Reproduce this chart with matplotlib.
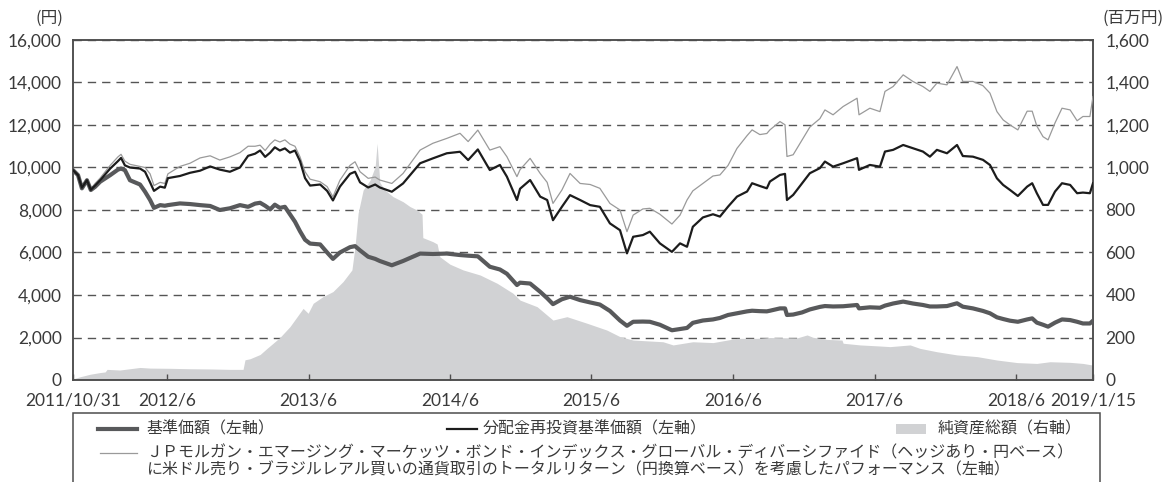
import pandas as pd
import matplotlib.pyplot as plt
from matplotlib.lines import Line2D
from matplotlib.patches import Rectangle

jp = ['Noto Sans CJK JP', 'DejaVu Sans']
num = ['Lato', 'DejaVu Sans']

# --- data ---
line_dates = [
    '2011-10-31', '2011-11-13', '2011-11-23', '2011-12-06', '2011-12-16', '2011-12-27',
    '2012-01-09', '2012-02-04', '2012-02-24', '2012-03-03', '2012-03-13', '2012-03-26',
    '2012-04-21', '2012-05-04', '2012-05-17', '2012-05-27', '2012-06-12', '2012-06-24',
    '2012-07-02', '2012-08-02', '2012-08-28', '2012-09-23', '2012-10-19', '2012-11-13',
    '2012-12-09', '2013-01-04', '2013-01-25', '2013-02-12', '2013-02-25', '2013-03-10',
    '2013-03-23', '2013-04-04', '2013-04-17', '2013-04-30', '2013-05-13', '2013-05-26',
    '2013-06-08', '2013-06-21', '2013-07-04', '2013-07-30', '2013-08-17', '2013-09-01',
    '2013-09-19', '2013-10-15', '2013-10-28', '2013-11-10', '2013-12-01', '2013-12-19',
    '2013-12-31', '2014-01-31', '2014-03-01', '2014-04-14', '2014-05-17', '2014-06-22',
    '2014-07-26', '2014-08-16', '2014-09-10', '2014-10-11', '2014-11-06', '2014-11-24',
    '2014-12-20', '2014-12-28', '2015-01-23', '2015-02-18', '2015-03-08', '2015-03-23',
    '2015-04-15', '2015-05-06', '2015-06-01', '2015-06-27', '2015-07-22', '2015-08-17',
    '2015-09-12', '2015-09-30', '2015-10-16', '2015-11-10', '2015-11-28', '2015-12-24',
    '2016-01-24', '2016-02-14', '2016-03-03', '2016-03-18', '2016-04-13', '2016-05-09',
    '2016-05-27', '2016-06-17', '2016-07-10', '2016-08-05', '2016-08-18', '2016-09-07',
    '2016-09-25', '2016-10-03', '2016-10-29', '2016-11-11', '2016-11-16', '2016-12-02',
    '2016-12-25', '2017-01-14', '2017-02-09', '2017-02-22', '2017-03-15', '2017-04-10',
    '2017-05-16', '2017-05-21', '2017-06-18', '2017-07-14', '2017-07-27', '2017-08-17',
    '2017-09-12', '2017-10-07', '2017-11-02', '2017-11-20', '2017-12-08', '2018-01-03',
    '2018-01-29', '2018-02-13', '2018-03-11', '2018-04-06', '2018-04-24', '2018-05-12',
    '2018-05-28', '2018-06-15', '2018-07-05', '2018-07-29', '2018-08-11', '2018-08-23',
    '2018-09-08', '2018-09-21', '2018-10-09', '2018-10-27', '2018-11-17', '2018-12-05',
    '2018-12-20', '2019-01-07', '2019-01-15',
]

# 基準価額 (円)
nav = [
    9875, 9640, 9020, 9400, 8940, 9090,
    9330, 9640, 9900, 9950, 9875, 9400,
    9200, 8860, 8470, 8100, 8230, 8200,
    8230, 8310, 8280, 8230, 8190, 8000,
    8080, 8230, 8150, 8300, 8340, 8200,
    8030, 8250, 8100, 8150, 7800, 7450,
    7000, 6600, 6420, 6380, 6000, 5700,
    6000, 6250, 6300, 6100, 5800, 5700,
    5600, 5400, 5600, 5950, 5930, 5950,
    5880, 5850, 5820, 5330, 5200, 5000,
    4470, 4580, 4540, 4150, 3850, 3570,
    3800, 3920, 3760, 3650, 3550, 3250,
    2800, 2550, 2740, 2750, 2740, 2600,
    2340, 2400, 2450, 2690, 2800, 2850,
    2920, 3060, 3140, 3230, 3260, 3240,
    3230, 3260, 3370, 3370, 3060, 3080,
    3180, 3320, 3440, 3480, 3460, 3470,
    3530, 3370, 3420, 3400, 3500, 3600,
    3690, 3600, 3530, 3460, 3460, 3480,
    3610, 3450, 3370, 3250, 3140, 2950,
    2870, 2790, 2740, 2850, 2900, 2700,
    2600, 2510, 2700, 2850, 2820, 2740,
    2660, 2660, 2790,
]

# 分配金再投資基準価額 (円)
reinvest = [
    9875, 9640, 9050, 9400, 8950, 9150,
    9400, 9950, 10300, 10450, 10100, 10000,
    9950, 9800, 9300, 8900, 9100, 9050,
    9500, 9600, 9750, 9850, 10050, 9900,
    9800, 10000, 10550, 10650, 10800, 10500,
    10700, 10950, 10800, 10900, 10700, 10800,
    10300, 9500, 9150, 9200, 8900, 8450,
    9100, 9700, 9800, 9300, 9060, 9200,
    9060, 8860, 9250, 10200, 10430, 10670,
    10740, 10350, 10850, 9880, 10120, 9570,
    8470, 9000, 9410, 8630, 8470, 7520,
    8150, 8700, 8470, 8230, 8150, 7370,
    7050, 5960, 6740, 6820, 6980, 6430,
    6030, 6430, 6270, 7210, 7650, 7800,
    7690, 8160, 8630, 8870, 9260, 9130,
    9020, 9340, 9650, 9700, 8470, 8710,
    9260, 9730, 9970, 10280, 10040, 10200,
    10440, 9890, 10120, 10040, 10750, 10830,
    11060, 10910, 10750, 10510, 10830, 10670,
    11060, 10540, 10510, 10360, 10120, 9490,
    9180, 8940, 8660, 9100, 9260, 8790,
    8240, 8240, 8870, 9260, 9180, 8790,
    8820, 8790, 9260,
]

# JPモルガン指数ベースのパフォーマンス (円)
bench = [
    9900, 9650, 9100, 9450, 9000, 9250,
    9500, 10100, 10500, 10620, 10300, 10150,
    10050, 10000, 9700, 9150, 9300, 9250,
    9700, 10050, 10200, 10450, 10550, 10350,
    10500, 10700, 11000, 11000, 11050, 10800,
    11100, 11300, 11200, 11300, 11100, 11000,
    10500, 9800, 9450, 9330, 9100, 8620,
    9400, 10100, 10270, 9800, 9490, 9550,
    9410, 9250, 9720, 10820, 11140, 11370,
    11610, 11220, 11760, 10820, 10980, 10510,
    9570, 9900, 10430, 9720, 9300, 8310,
    8940, 9720, 9250, 9200, 9020, 8310,
    8000, 6980, 7760, 8050, 8080, 7800,
    7340, 7760, 8470, 8900, 9250, 9600,
    9650, 10100, 10900, 11500, 11770, 11550,
    11600, 11770, 12160, 12010, 10520, 10600,
    11300, 11900, 12300, 12710, 12480, 12870,
    13260, 12480, 12790, 12630, 13580, 13810,
    14360, 14050, 13810, 13580, 13970, 13890,
    14750, 14050, 14050, 13850, 13500, 12630,
    12240, 12000, 11770, 12650, 12650, 11950,
    11450, 11300, 12100, 12790, 12710, 12200,
    12400, 12400, 13340,
]

# 純資産総額 (百万円)
asset_dates = [
    '2011-10-31', '2011-11-18', '2011-12-14', '2012-01-09', '2012-01-22', '2012-01-27',
    '2012-02-29', '2012-03-26', '2012-04-21', '2012-05-17', '2012-07-07', '2012-08-28',
    '2012-10-19', '2012-12-09', '2013-01-12', '2013-01-17', '2013-01-30', '2013-02-25',
    '2013-03-15', '2013-03-30', '2013-04-17', '2013-05-13', '2013-06-16', '2013-06-29',
    '2013-07-12', '2013-08-06', '2013-09-01', '2013-09-27', '2013-10-20', '2013-10-28',
    '2013-11-05', '2013-11-18', '2013-12-06', '2013-12-19', '2013-12-24', '2013-12-31',
    '2014-01-13', '2014-02-03', '2014-03-01', '2014-03-19', '2014-04-06', '2014-04-19',
    '2014-04-21', '2014-05-17', '2014-05-28', '2014-06-04', '2014-06-30', '2014-08-03',
    '2014-09-16', '2014-10-30', '2014-12-10', '2014-12-28', '2015-02-10', '2015-03-23',
    '2015-04-28', '2015-06-19', '2015-08-09', '2015-09-12', '2015-10-16', '2016-01-01',
    '2016-01-27', '2016-03-18', '2016-05-09', '2016-07-10', '2016-08-31', '2016-10-03',
    '2016-12-12', '2017-01-07', '2017-01-22', '2017-02-27', '2017-04-07', '2017-04-10',
    '2017-05-24', '2017-07-14', '2017-08-09', '2017-09-30', '2017-10-25', '2017-12-08',
    '2018-01-29', '2018-03-22', '2018-05-12', '2018-07-03', '2018-08-23', '2018-09-26',
    '2018-11-17', '2018-12-20', '2019-01-15',
]
assets = [
    5, 15, 27, 35, 38, 50,
    47, 53, 59, 56, 55, 53,
    52, 50, 50, 95, 100, 120,
    149, 172, 200, 251, 337, 314,
    361, 392, 416, 463, 518, 628,
    785, 894, 941, 1004, 1114, 930,
    894, 863, 839, 816, 800, 780,
    670, 651, 640, 580, 545, 518,
    494, 455, 408, 376, 345, 282,
    298, 267, 235, 204, 188, 180,
    165, 180, 176, 196, 196, 200,
    198, 212, 201, 191, 188, 173,
    165, 160, 157, 165, 149, 133,
    118, 110, 94, 82, 78, 86,
    83, 78, 70,
]

tick_dates = ['2011-10-31', '2012-06-30', '2013-06-30', '2014-06-30', '2015-06-30',
              '2016-06-30', '2017-06-30', '2018-06-30', '2019-01-15']
tick_labels = ['2011/10/31', '2012/6', '2013/6', '2014/6', '2015/6',
               '2016/6', '2017/6', '2018/6', '2019/1/15']

left_ticks = list(range(0, 16001, 2000))
right_ticks = list(range(0, 1601, 200))

line_dates = pd.to_datetime(line_dates)
asset_dates = pd.to_datetime(asset_dates)
tick_dates = pd.to_datetime(tick_dates)

# --- figure ---
W, H = 1163, 482
fig = plt.figure(figsize=(W / 100, H / 100), dpi=100)
ax = fig.add_axes([73 / W, 1 - 380 / H, 1020 / W, 340 / H])
ax2 = ax.twinx()
ax.set_zorder(2)
ax2.set_zorder(1)
ax.patch.set_visible(False)

edge = '#4d4d4d'
txt = '#3a3a3a'

# net assets area + dashed grid underneath it (right axis)
ax2.fill_between(asset_dates, 0, assets, color='#d1d2d4', lw=0, zorder=2)
ax2.set_ylim(0, 1600)
ax2.set_yticks(right_ticks)
ax2.set_yticklabels([f'{v:,}' for v in right_ticks], family=num, fontsize=12.5, color=txt)
ax2.set_axisbelow(True)
ax2.grid(axis='y', color='#555555', lw=1.0, linestyle=(0, (6, 4.3)))
ax2.tick_params(axis='y', length=0, pad=9)

# lines (left axis)
ax.plot(line_dates, bench, color='#9a9a9a', lw=0.9, zorder=3)
ax.plot(line_dates, nav, color='#58595b', lw=3.0, zorder=4, solid_joinstyle='round')
ax.plot(line_dates, reinvest, color='#1c1c1c', lw=1.6, zorder=5)

ax.set_ylim(0, 16000)
ax.set_yticks(left_ticks)
ax.set_yticklabels([f'{v:,}' for v in left_ticks], family=num, fontsize=12.5, color=txt)
ax.tick_params(axis='y', length=0, pad=8)

ax.set_xlim(pd.Timestamp('2011-10-31'), pd.Timestamp('2019-01-15'))
ax.set_xticks(tick_dates)
ax.set_xticklabels(tick_labels, family=num, fontsize=12.5, color=txt)
ax.tick_params(axis='x', direction='in', length=4, width=1, color=edge, pad=9)

for a in (ax, ax2):
    for s in a.spines.values():
        s.set_color(edge)
        s.set_linewidth(1.1)

fig.text(63 / W, 1 - 18 / H, '(円)', family=jp, fontsize=12, ha='right', va='center', color=txt)
fig.text(1102 / W, 1 - 18 / H, '(百万円)', family=jp, fontsize=12, ha='left', va='center', color=txt)

# --- legend box under the chart ---
def fx(x):
    return x / W


def fy(y):
    return 1 - y / H


fig.add_artist(Rectangle((fx(73), fy(500)), fx(1100) - fx(73), fy(413) - fy(500),
                         transform=fig.transFigure, fill=False, ec=edge, lw=1.1, clip_on=False))
fig.add_artist(Line2D([fx(98), fx(137)], [fy(429), fy(429)], color='#58595b', lw=3.0,
                      transform=fig.transFigure))
fig.add_artist(Line2D([fx(447), fx(477)], [fy(429), fy(429)], color='#1c1c1c', lw=1.6,
                      transform=fig.transFigure))
fig.add_artist(Rectangle((fx(896), fy(434)), fx(926) - fx(896), fy(424) - fy(434),
                         transform=fig.transFigure, color='#d1d2d4', lw=0))
fig.add_artist(Line2D([fx(100), fx(137)], [fy(453), fy(453)], color='#9a9a9a', lw=0.9,
                      transform=fig.transFigure))

lt = dict(family=jp, fontsize=11.5, va='center', ha='left', color=txt)
fig.text(fx(146), fy(429), '基準価額（左軸）', **lt)
fig.text(fx(483), fy(429), '分配金再投資基準価額（左軸）', **lt)
fig.text(fx(938), fy(429), '純資産総額（右軸）', **lt)
fig.text(fx(146), fy(453), 'ＪＰモルガン・エマージング・マーケッツ・ボンド・インデックス・グローバル・ディバーシファイド（ヘッジあり・円ベース）', **lt)
fig.text(fx(146), fy(470), 'に米ドル売り・ブラジルレアル買いの通貨取引のトータルリターン（円換算ベース）を考慮したパフォーマンス（左軸）', **lt)

fig.savefig('out.png', dpi=100)
